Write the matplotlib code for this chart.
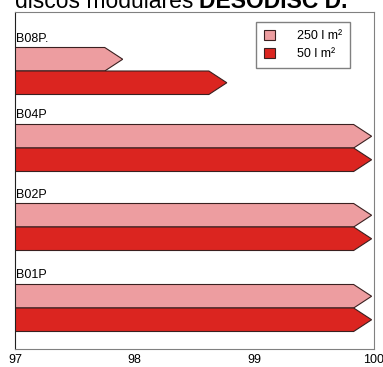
import matplotlib.pyplot as plt
from matplotlib.patches import Polygon, Patch

plt.rcParams['font.family'] = ['Liberation Sans', 'DejaVu Sans']

# datos
grupos = ['B08P.', 'B04P', 'B02P', 'B01P']
serie_250 = [97.90, 99.98, 99.98, 99.98]
serie_50 = [98.77, 99.98, 99.98, 99.98]
etiquetas = ['250 l m²', '50 l m²']
colores = ['#ED9DA0', '#DB2520']

fig = plt.figure(figsize=(3.83, 3.67), dpi=100)
ax = fig.add_axes([15 / 383, 1 - 349 / 367, 359 / 383, 337 / 367])

centros = [59, 136, 215, 296]  # posicion de cada grupo (px desde arriba)
alto = 23.5
punta = 0.15  # largo de la punta de flecha


def flecha(ax, y0, valor, color):
    base = 97
    x1 = max(base, valor - punta)
    pts = [(base, y0), (x1, y0), (valor, y0 + alto / 2), (x1, y0 + alto), (base, y0 + alto)]
    ax.add_patch(Polygon(pts, closed=True, facecolor=color, edgecolor='#3a2020', linewidth=0.8))


for nombre, c, v1, v2 in zip(grupos, centros, serie_250, serie_50):
    flecha(ax, c - alto, v1, colores[0])
    flecha(ax, c, v2, colores[1])
    ax.text(97.01, c - alto - 3, nombre, fontsize=9, va='bottom', ha='left')

ax.set_xlim(97, 100)
ax.set_ylim(337, 0)
ax.set_xticks([97, 98, 99, 100])
ax.set_xticklabels(['97', '98', '99', '100'], fontsize=9)
ax.tick_params(axis='x', length=0, pad=3.5)
ax.set_yticks([])
for s in ['top', 'right', 'bottom']:
    ax.spines[s].set_color('#808080')
ax.spines['left'].set_color('#202020')

hs = [Patch(facecolor=colores[i], edgecolor='#3a2020', linewidth=0.8) for i in range(2)]
leg = ax.legend(hs, etiquetas, loc='upper right', bbox_to_anchor=(0.933, 0.97), fontsize=9,
                fancybox=False, edgecolor='#808080', handlelength=0.9, handleheight=0.9,
                borderpad=0.6, labelspacing=0.45, handletextpad=1.8, framealpha=1,
                borderaxespad=0)
for t in leg.get_texts():
    t.set_ha('right')

# titulo cortado arriba
fig.text(0.505, 1 - 8 / 367, 'discos modulares', fontsize=16.5, ha='right', va='baseline')
fig.text(0.52, 1 - 8 / 367, 'DESODISC D.', fontsize=16.5, fontweight='bold', ha='left', va='baseline')

fig.savefig('out.png', dpi=100)
